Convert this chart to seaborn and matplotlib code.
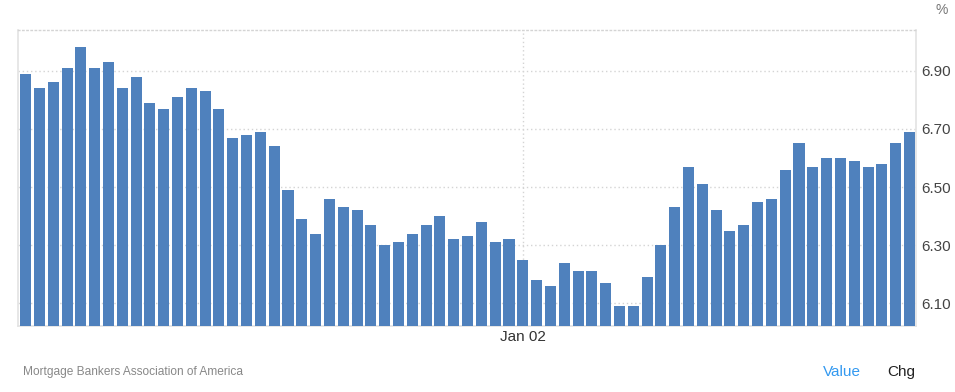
import matplotlib
matplotlib.use("Agg")
import matplotlib.pyplot as plt
import seaborn as sns
import pandas as pd

# ---- data ----
values = [6.89, 6.84, 6.86, 6.91, 6.98, 6.91, 6.93, 6.84, 6.88, 6.79,
          6.77, 6.81, 6.84, 6.83, 6.77, 6.67, 6.68, 6.69, 6.64, 6.49,
          6.39, 6.34, 6.46, 6.43, 6.42, 6.37, 6.30, 6.31, 6.34, 6.37,
          6.40, 6.32, 6.33, 6.38, 6.31, 6.32, 6.25, 6.18, 6.16, 6.24,
          6.21, 6.21, 6.17, 6.09, 6.09, 6.19, 6.30, 6.43, 6.57, 6.51,
          6.42, 6.35, 6.37, 6.45, 6.46, 6.56, 6.65, 6.57, 6.60, 6.60,
          6.59, 6.57, 6.58, 6.65, 6.69]
dates = pd.date_range("2024-04-25", periods=len(values), freq="7D")
categories = [d.strftime("%Y-%m-%d") for d in dates]
x_tick_labels = ["Jan 02"]
x_tick_dates = ["2025-01-02"]
y_ticks = [6.10, 6.30, 6.50, 6.70, 6.90]
source = "Mortgage Bankers Association of America"

df = pd.DataFrame({"date": categories, "value": values})

sns.set_theme(style="white")
plt.rcParams["font.family"] = ["Liberation Sans", "DejaVu Sans"]

W, H = 955, 392
fig = plt.figure(figsize=(W / 100, H / 100), dpi=100)
ax = fig.add_axes([18 / W, 1 - 326 / H, (916 - 18) / W, (326 - 30) / H])

sns.barplot(data=df, x="date", y="value", order=categories, color="#4f81bd",
            saturation=1, width=0.8, linewidth=0, edgecolor="none", ax=ax, zorder=3)

ax.set_ylim(6.022, 7.04)
ax.set_xlim(-0.55, len(values) - 1 + 0.47)
ax.set_xlabel("")
ax.set_ylabel("")

# y axis on right
ax.yaxis.tick_right()
ax.set_yticks(y_ticks)
ax.set_yticklabels([f"{v:.2f}" for v in y_ticks])
ax.tick_params(axis="y", length=0, pad=4, labelsize=11, labelcolor="#444444")

# x tick
xpos = [categories.index(d) for d in x_tick_dates]
ax.set_xticks(xpos)
ax.set_xticklabels(x_tick_labels)
ax.tick_params(axis="x", length=0, pad=3, labelsize=11, labelcolor="#333333")

ax.grid(True, axis="both", linestyle=(0, (1, 2)), color="#d4d4d4", linewidth=1.0, zorder=0)
ax.set_axisbelow(True)

for s in ["left", "right", "bottom"]:
    ax.spines[s].set_visible(True)
    ax.spines[s].set_color("#e3e3e3")
    ax.spines[s].set_linewidth(1.2)
ax.spines["top"].set_visible(True)
ax.spines["top"].set_color("#d4d4d4")
ax.spines["top"].set_linestyle((0, (1, 2)))
ax.spines["top"].set_linewidth(1.0)

fig.text(935 / W, 1 - 10 / H, "%", ha="left", va="center", fontsize=10, color="#777777")
fig.text(23 / W, 1 - 372 / H, source, ha="left", va="center", fontsize=8.6, color="#888888")
fig.text(823 / W, 1 - 372 / H, "Value", ha="left", va="center", fontsize=11, color="#3399f0")
fig.text(887 / W, 1 - 372 / H, "Chg", ha="left", va="center", fontsize=11, color="#222222")

fig.savefig("out.png", dpi=100, facecolor="white")
